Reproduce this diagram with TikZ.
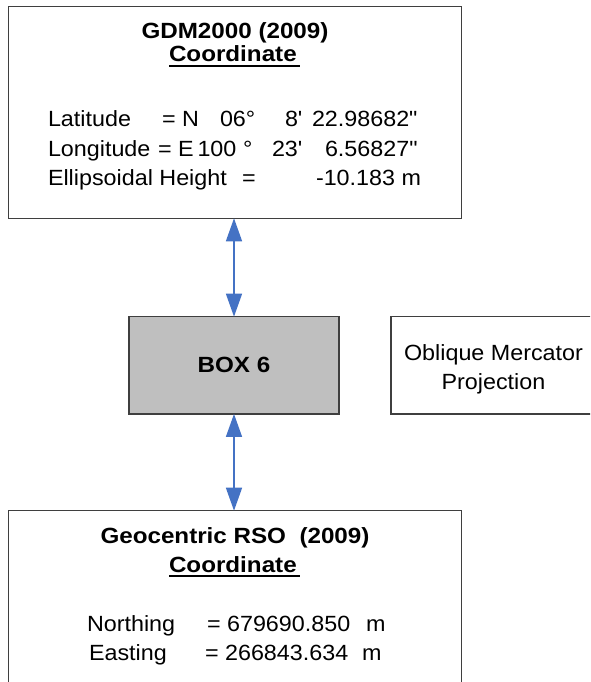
\documentclass[tikz,border=0pt]{standalone}
\usepackage{fontspec}
\setmainfont{Liberation Sans}[Ligatures=TeXOff, FakeStretch=1.06,
  BoldFeatures={FakeStretch=1.1}]
\usetikzlibrary{arrows.meta}
\definecolor{arrowblue}{HTML}{4472C4}
\definecolor{boxgray}{HTML}{BFBFBF}
\definecolor{edgegray}{HTML}{3F3F3F}
\tikzset{
  frame/.style={draw=edgegray, line width=1.3pt, inner sep=0pt, outer sep=0pt},
  txt/.style={inner sep=0pt, outer sep=0pt, font=\fontsize{22}{26}\selectfont},
  btxt/.style={txt, font=\fontsize{22}{26}\selectfont\bfseries},
  link/.style={draw=arrowblue, line width=1.5pt,
    {Triangle[width=16pt,length=23pt]}-{Triangle[width=16pt,length=23pt]}},
  uline/.style={line width=1.4pt}
}
\begin{document}
\begin{tikzpicture}[x=1pt, y=-1pt]
  \useasboundingbox (0,0) rectangle (590,682);
  \clip (0,0) rectangle (590,682);

  % boxes
  \node[frame, minimum width=453.4pt, minimum height=211.6pt] (gdm) at (235,112.5) {};
  \node[frame, fill=boxgray, minimum width=210pt, minimum height=97.3pt] (box6) at (234,365.3) {};
  \node[frame, minimum width=240pt, minimum height=97.3pt, anchor=north west] (omp) at (391,316.7) {};
  \node[frame, minimum width=453.4pt, minimum height=260pt, anchor=north] (rso) at (235,510.7) {};

  % connectors
  \draw[link] (box6.north) -- (box6.north |- gdm.south);
  \draw[link] (box6.south) -- (box6.south |- rso.north);

  % GDM2000 box text
  \node[btxt, anchor=base] (gdmtitle) at (235,39) {GDM2000 (2009)};
  \node[btxt, anchor=base west] (gdmcoord) at (169,62) {Coordinate};
  \draw[uline] ([yshift=-4pt]gdmcoord.base west) -- ++(131,0);

  \node[txt, anchor=base west] (lat1) at (48,127) {Latitude};
  \node[txt, anchor=base west] (lat2) at (162,127) {= N};
  \node[txt, anchor=base west] (lat3) at (220,127) {06°};
  \node[txt, anchor=base west] (lat4) at (285,127) {8'};
  \node[txt, anchor=base west] (lat5) at (312,127) {22.98682"};

  \node[txt, anchor=base west] (lon1) at (48,156) {Longitude};
  \node[txt, anchor=base west] (lon2) at (158,156) {= E};
  \node[txt, anchor=base west] (lon3) at (197.5,156) {100};
  \node[txt, anchor=base west] (lon4) at (243,156) {°};
  \node[txt, anchor=base west] (lon5) at (272,156) {23'};
  \node[txt, anchor=base west] (lon6) at (325,156) {6.56827"};

  \node[txt, anchor=base west] (eh1) at (48,185) {Ellipsoidal Height};
  \node[txt, anchor=base west] (eh2) at (242,185) {=};
  \node[txt, anchor=base east] (eh3) at (421,185) {-10.183 m};

  % BOX 6 and projection note
  \node[btxt, anchor=base] (box6label) at (234,372) {BOX 6};
  \node[txt, anchor=base] (omp1) at (493.5,360) {Oblique Mercator};
  \node[txt, anchor=base] (omp2) at (493.5,389) {Projection};

  % Geocentric RSO box text
  \node[btxt, anchor=base] (rsotitle) at (235,543) {Geocentric RSO\ \ (2009)};
  \node[btxt, anchor=base west] (rsocoord) at (169,572) {Coordinate};
  \draw[uline] ([yshift=-4pt]rsocoord.base west) -- ++(131,0);

  \node[txt, anchor=base west] (n1) at (87,631) {Northing};
  \node[txt, anchor=base west] (n2) at (207,631) {= 679690.850};
  \node[txt, anchor=base west] (n3) at (366,631) {m};

  \node[txt, anchor=base west] (e1) at (89,660) {Easting};
  \node[txt, anchor=base west] (e2) at (205,660) {= 266843.634};
  \node[txt, anchor=base west] (e3) at (362,660) {m};
\end{tikzpicture}
\end{document}
